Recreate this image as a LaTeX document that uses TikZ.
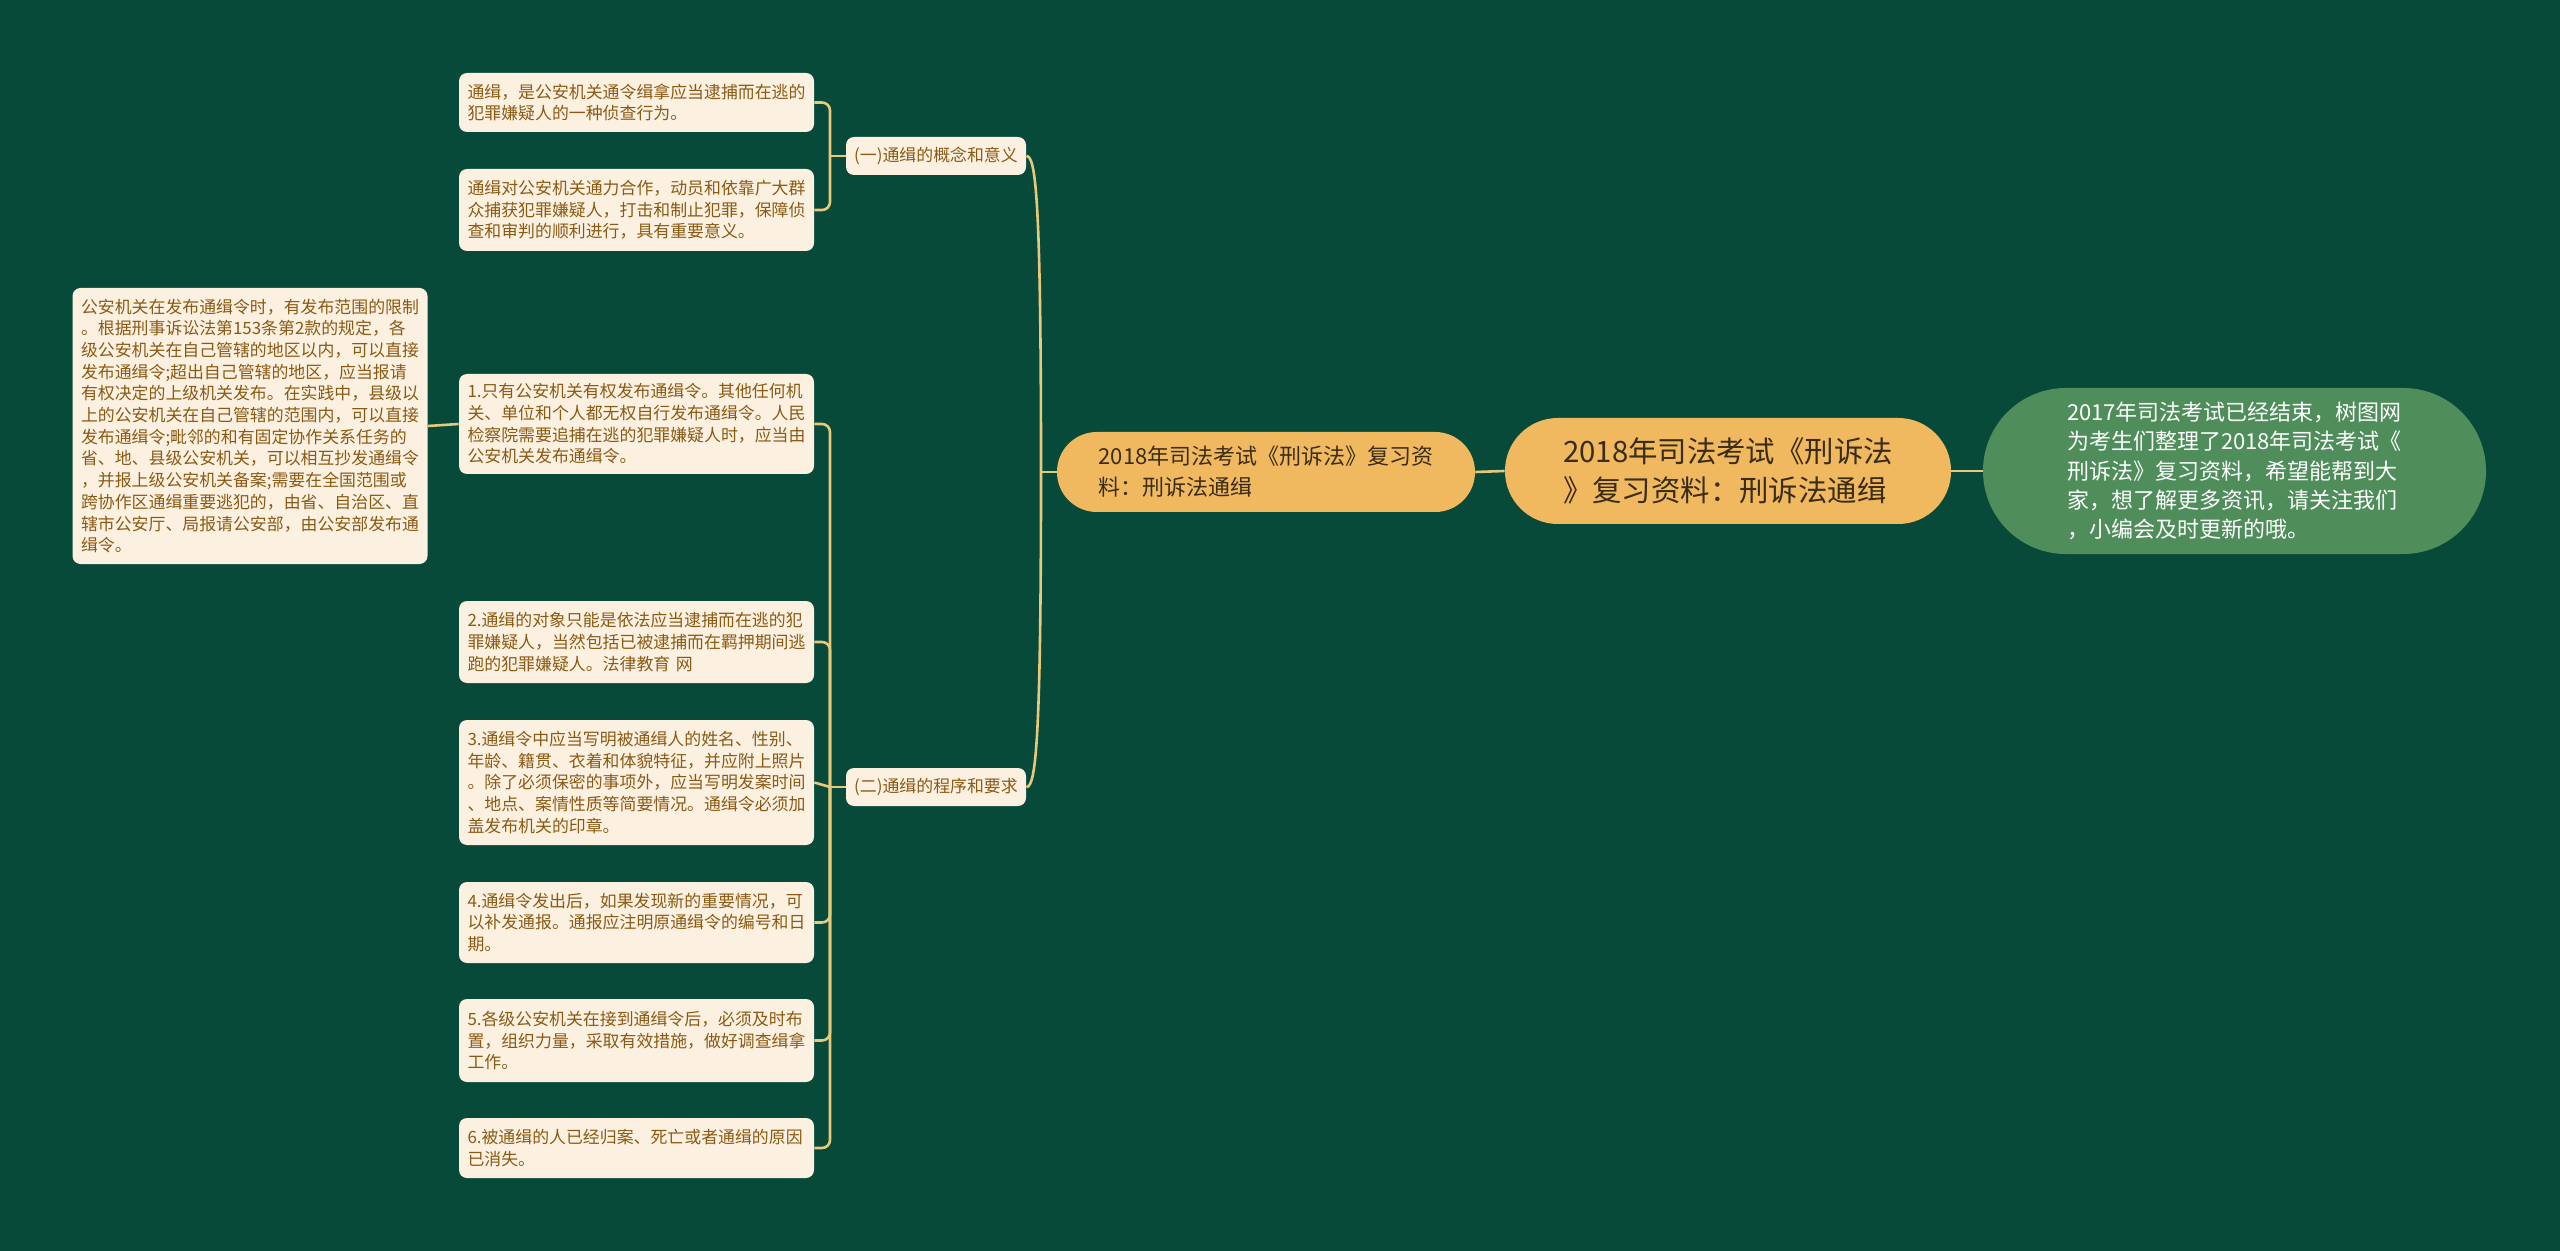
\documentclass[tikz,border=0pt]{standalone}
\usepackage{fontspec}
\usepackage{tikz}
\newfontfamily\cjk{Noto Sans CJK SC}
\definecolor{bg}{HTML}{074A39}
\definecolor{cream}{HTML}{FCF1E1}
\definecolor{ink}{HTML}{8A5A14}
\definecolor{gold}{HTML}{E6C97A}
\definecolor{amber}{HTML}{F0B95F}
\definecolor{moss}{HTML}{4F8E5B}
\definecolor{dark}{HTML}{3A2C17}

\begin{document}
\begin{tikzpicture}[x=0.5pt,y=-0.5pt,
  leafbox/.style={fill=cream,text=ink,rounded corners=4pt,align=left,text width=169pt,
    inner xsep=4.25pt,inner ysep=0pt,font=\cjk\fontsize{8.45pt}{10.85pt}\selectfont},
  tagbox/.style={fill=cream,text=ink,rounded corners=4pt,minimum width=90pt,minimum height=19pt,
    inner sep=0pt,font=\cjk\fontsize{8.45pt}{10pt}\selectfont},
  topicbox/.style={fill=amber,text=dark,rounded corners=19.9pt,align=left,minimum width=209pt,
    minimum height=40pt,inner sep=0pt,font=\cjk\fontsize{11pt}{15.5pt}\selectfont},
  headbox/.style={fill=amber,text=dark,rounded corners=26.4pt,align=left,minimum width=223pt,
    minimum height=53pt,inner sep=0pt,font=\cjk\fontsize{14.7pt}{19.5pt}\selectfont},
  notebox/.style={fill=moss,text=white,rounded corners=41.4pt,align=left,minimum width=251.5pt,
    minimum height=83pt,inner sep=0pt,font=\cjk\fontsize{11pt}{14.6pt}\selectfont},
  link/.style={draw=gold,line width=1.3pt}]
\fill[bg] (0,0) rectangle (2560,1251);
\useasboundingbox (0,0) rectangle (2560,1251);

% centre and right side
\node[headbox] (head) at (1728,471) {2018年司法考试《刑诉法\\》复习资料：刑诉法通缉};
\node[notebox] (note) at (2234.5,471) {2017年司法考试已经结束，树图网\\为考生们整理了2018年司法考试《\\刑诉法》复习资料，希望能帮到大\\家，想了解更多资讯，请关注我们\\，小编会及时更新的哦。};
\node[topicbox] (topic) at (1266,472) {2018年司法考试《刑诉法》复习资\\料：刑诉法通缉};

% the two sections
\node[tagbox] (c1) at (936,156) {(一)通缉的概念和意义};
\node[tagbox] (c2) at (936,787) {(二)通缉的程序和要求};

% leaves of (一)
\node[leafbox,minimum height=29.5pt] (a1) at (636.5,102.5) {通缉，是公安机关通令缉拿应当逮捕而在逃的\\犯罪嫌疑人的一种侦查行为。};
\node[leafbox,minimum height=41pt] (a2) at (636.5,210) {通缉对公安机关通力合作，动员和依靠广大群\\众捕获犯罪嫌疑人，打击和制止犯罪，保障侦\\查和审判的顺利进行，具有重要意义。};

% leaves of (二)
\node[leafbox,minimum height=50pt] (b1) at (636.5,424) {1.只有公安机关有权发布通缉令。其他任何机\\关、单位和个人都无权自行发布通缉令。人民\\检察院需要追捕在逃的犯罪嫌疑人时，应当由\\公安机关发布通缉令。};
\node[leafbox,minimum height=41pt] (b2) at (636.5,642) {2.通缉的对象只能是依法应当逮捕而在逃的犯\\罪嫌疑人，当然包括已被逮捕而在羁押期间逃\\跑的犯罪嫌疑人。法律教育 网};
\node[leafbox,minimum height=62.5pt] (b3) at (636.5,782.5) {3.通缉令中应当写明被通缉人的姓名、性别、\\年龄、籍贯、衣着和体貌特征，并应附上照片\\。除了必须保密的事项外，应当写明发案时间\\、地点、案情性质等简要情况。通缉令必须加\\盖发布机关的印章。};
\node[leafbox,minimum height=40.5pt] (b4) at (636.5,922.5) {4.通缉令发出后，如果发现新的重要情况，可\\以补发通报。通报应注明原通缉令的编号和日\\期。};
\node[leafbox,minimum height=41.5pt] (b5) at (636.5,1040.5) {5.各级公安机关在接到通缉令后，必须及时布\\置，组织力量，采取有效措施，做好调查缉拿\\工作。};
\node[leafbox,minimum height=30pt] (b6) at (636.5,1148) {6.被通缉的人已经归案、死亡或者通缉的原因\\已消失。};

% note on item 1
\node[leafbox,minimum height=138pt] (L) at (250,426) {公安机关在发布通缉令时，有发布范围的限制\\。根据刑事诉讼法第153条第2款的规定，各\\级公安机关在自己管辖的地区以内，可以直接\\发布通缉令;超出自己管辖的地区，应当报请\\有权决定的上级机关发布。在实践中，县级以\\上的公安机关在自己管辖的范围内，可以直接\\发布通缉令;毗邻的和有固定协作关系任务的\\省、地、县级公安机关，可以相互抄发通缉令\\，并报上级公安机关备案;需要在全国范围或\\跨协作区通缉重要逃犯的，由省、自治区、直\\辖市公安厅、局报请公安部，由公安部发布通\\缉令。};

% connectors
\coordinate (hub) at (1041,472);
\coordinate (k1) at (830,156);
\coordinate (k2) at (830,787);
\draw[link] (note.west) -- (head.east);
\draw[link] (head.west) -- (topic.east);
\draw[link] (topic.west) -- (hub);
\draw[link] (hub) .. controls (1041,200) and (1036,156) .. (c1.east);
\draw[link] (hub) .. controls (1041,740) and (1036,787) .. (c2.east);
\draw[link] (c1.west) -- (k1);
\draw[link,rounded corners=4pt] (k1) |- (a1.east);
\draw[link,rounded corners=4pt] (k1) |- (a2.east);
\draw[link] (c2.west) -- (k2);
\foreach \n in {b1,b2,b4,b5,b6}
  \draw[link,rounded corners=4pt] (k2) |- (\n.east);
\draw[link] (k2) -- (b3.east);
\draw[link] (L.east) -- (b1.west);
\end{tikzpicture}
\end{document}
